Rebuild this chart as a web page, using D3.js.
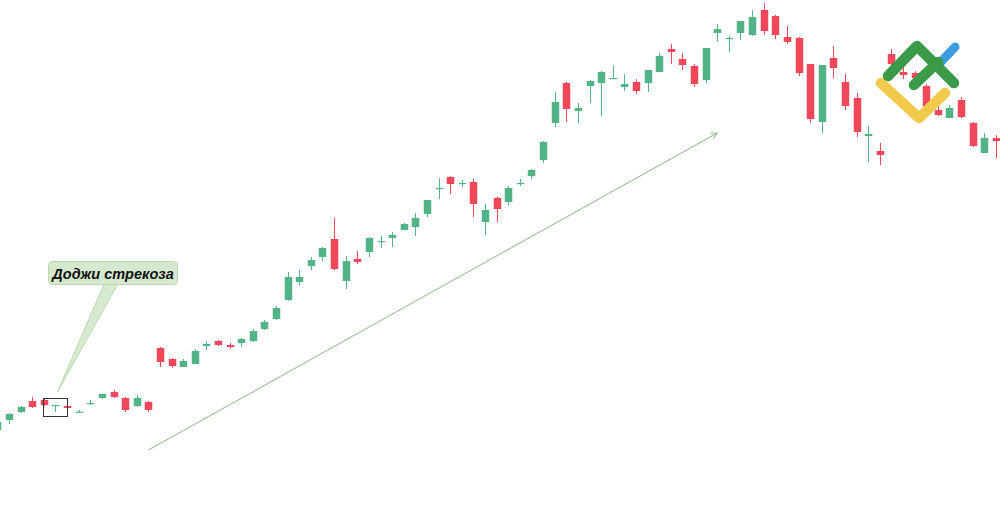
<!DOCTYPE html>
<html>
<head>
<meta charset="utf-8">
<script src="https://cdn.jsdelivr.net/npm/d3@7"></script>
<style>
html,body{margin:0;padding:0;background:#fff;}
svg{display:block;}
</style>
</head>
<body>
<svg id="chart" width="1000" height="513"></svg>
<script>
// ---- data (prices) ----
const openP  = [107.0,108.0,108.8,109.9,110.0,109.5,109.4,108.8,109.65,110.2,110.8,110.2,109.4,109.8,
  115.2,114.1,113.3,113.6,115.4,115.9,115.5,115.7,115.9,117.1,118.1,120.0,121.8,123.4,124.3,126.1,
  121.9,124.1,124.8,125.8,126.2,127.0,127.3,128.6,131.1,132.3,131.6,131.8,127.8,130.2,129.8,131.6,
  132.4,134.0,137.7,141.7,138.9,141.4,141.7,142.17,141.3,141.8,141.7,142.8,145.1,144.1,143.4,142.0,
  146.7,146.15,146.7,146.5,149.0,148.4,146.3,146.2,143.6,137.8,144.2,141.8,140.2,136.4,134.9,144.6,
  142.8,142.7,141.4,139.0,138.2,140.0,137.7,134.7,136.2];
const highP  = [108.0,108.7,109.4,110.3,110.1,109.5,109.6,109.0,110.0,110.6,111.0,110.3,110.5,109.9,
  115.3,114.2,114.1,115.1,115.9,116.0,115.7,116.2,117.1,118.0,119.4,122.8,123.0,124.3,125.3,128.2,
  124.4,124.9,126.3,126.4,126.8,127.7,128.7,130.0,132.2,132.4,132.0,132.1,129.6,130.3,131.4,132.1,
  133.1,135.9,140.8,141.8,139.7,142.0,142.9,143.4,142.6,142.1,143.0,144.7,145.6,144.7,143.6,145.2,
  147.6,146.4,147.9,149.0,149.7,148.5,147.4,146.3,143.6,143.5,145.4,142.6,140.7,137.4,135.7,145.1,
  143.4,142.9,141.6,140.5,139.5,140.3,137.8,136.7,136.5];
const lowP   = [106.8,107.6,108.7,109.2,109.4,108.8,109.1,108.7,109.5,110.1,110.2,108.8,109.3,108.8,
  113.3,113.2,113.3,113.6,115.0,115.4,115.1,115.3,115.8,117.0,118.0,119.9,121.5,123.0,123.9,123.0,
  121.1,123.6,124.3,125.2,125.3,127.0,126.4,128.3,130.1,130.6,131.3,128.3,126.5,127.8,129.5,131.4,
  132.1,133.7,137.3,137.8,137.7,139.7,138.4,142.1,140.9,140.6,140.8,142.8,143.6,143.0,141.3,141.7,
  145.8,144.8,146.0,146.4,146.5,146.1,145.6,142.4,137.7,136.7,142.2,139.0,136.3,133.8,133.5,143.2,
  142.1,142.0,139.2,138.4,138.2,138.2,135.3,134.7,134.2];
const closeP = [107.8,108.6,109.3,109.3,109.5,109.5,109.2,108.83,109.7,110.6,110.3,109.0,110.2,109.0,
  113.8,113.4,113.9,114.9,115.6,115.5,115.3,116.1,116.9,117.8,119.2,122.3,122.3,124.0,125.2,123.1,
  123.9,123.8,126.2,125.9,126.5,127.6,128.2,130.0,131.2,131.6,131.7,129.6,129.0,129.1,131.2,131.7,
  133.0,135.8,139.8,139.1,139.2,141.9,142.8,142.2,141.6,140.9,143.0,144.4,144.8,143.5,141.6,145.2,
  147.1,146.2,147.9,148.3,146.9,146.5,145.8,142.7,138.1,143.5,143.2,139.4,136.8,136.6,134.5,143.6,
  142.5,142.2,139.4,138.5,139.2,138.3,135.4,136.2,135.9];

const labelText = "Доджи стрекоза";
const dojiIndex = 5;
const trendFrom = {i: 13, p: 105.0};
const trendTo   = {i: 62, p: 136.7};

// ---- scales ----
const svg = d3.select("#chart");
const n = openP.length;
const x = d3.scaleLinear().domain([0, n - 1]).range([-2.6, 995.9]);
const y = d3.scaleLinear().domain([104, 150]).range([460, 0]);

const candles = d3.range(n).map(i => ({i, o: openP[i], h: highP[i], l: lowP[i], c: closeP[i]}));
const GREEN = "#52b486", RED = "#f0475b";
const col = d => d.c >= d.o ? GREEN : RED;
const bodyW = 7.5;

// ---- trend arrow ----
svg.append("defs").append("marker")
  .attr("id", "ah").attr("viewBox", "0 0 10 10").attr("refX", 9).attr("refY", 5)
  .attr("markerWidth", 7).attr("markerHeight", 7).attr("orient", "auto")
  .append("path").attr("d", "M1,1 L9,5 L1,9").attr("fill", "none")
  .attr("stroke", "#9cc496").attr("stroke-width", 1.4);
svg.append("line")
  .attr("x1", x(trendFrom.i)).attr("y1", y(trendFrom.p))
  .attr("x2", x(trendTo.i)).attr("y2", y(trendTo.p))
  .attr("stroke", "#9cc496").attr("stroke-width", 1.1)
  .attr("marker-end", "url(#ah)");

// ---- candles ----
const g = svg.append("g");
g.selectAll("line.wick").data(candles).join("line")
  .attr("class", "wick")
  .attr("x1", d => Math.round(x(d.i)) + 0.5).attr("x2", d => Math.round(x(d.i)) + 0.5)
  .attr("y1", d => y(d.h)).attr("y2", d => y(d.l))
  .attr("stroke", col).attr("stroke-width", 1);
g.selectAll("rect.body").data(candles).join("rect")
  .attr("class", "body")
  .attr("x", d => Math.round(x(d.i)) + 0.5 - bodyW / 2)
  .attr("width", bodyW)
  .attr("y", d => y(Math.max(d.o, d.c)))
  .attr("height", d => Math.max(1.2, Math.abs(y(d.o) - y(d.c))))
  .attr("fill", col);

// ---- doji highlight box ----
const dd = candles[dojiIndex];
svg.append("rect")
  .attr("x", Math.round(x(dd.i) - 12) + 0.5).attr("y", Math.round(y(dd.h) - 7) + 0.5)
  .attr("width", 24).attr("height", 18)
  .attr("fill", "none").attr("stroke", "#333").attr("stroke-width", 1);

// ---- label with pointer ----
const tip = [x(dd.i) + 2, y(dd.h) - 13];
svg.append("path")
  .attr("d", `M105,282 L119,282 L${tip[0]},${tip[1]} Z`)
  .attr("fill", "#cfe6c7").attr("fill-opacity", 0.85)
  .attr("stroke", "#b8d8ae").attr("stroke-width", 1);
svg.append("rect")
  .attr("x", 48.5).attr("y", 261.5).attr("width", 129).attr("height", 23).attr("rx", 4)
  .attr("fill", "#d5e9cf").attr("stroke", "#b8d8ae").attr("stroke-width", 1);
svg.append("text")
  .attr("x", 113).attr("y", 278.5)
  .attr("text-anchor", "middle")
  .attr("font-family", "'Liberation Sans', Arial, sans-serif")
  .attr("font-weight", "bold").attr("font-style", "italic")
  .attr("font-size", 14.5).attr("fill", "#111")
  .text(labelText);

// ---- logo (decoration) ----
const logo = svg.append("g").attr("fill", "none").attr("stroke-linecap", "round").attr("stroke-linejoin", "round");
logo.append("path").attr("d", "M937,66 L955,47").attr("stroke", "#3d9be2").attr("stroke-width", 9);
logo.append("path").attr("d", "M881,83 L919,118 L945,93").attr("stroke", "#f1c94b").attr("stroke-width", 10.5);
logo.append("path").attr("d", "M888,76 L917,46 L954,83").attr("stroke", "#3b9a48").attr("stroke-width", 10.5);
logo.append("path").attr("d", "M914,85 L938,62").attr("stroke", "#3b9a48").attr("stroke-width", 10.5);
</script>
</body>
</html>
